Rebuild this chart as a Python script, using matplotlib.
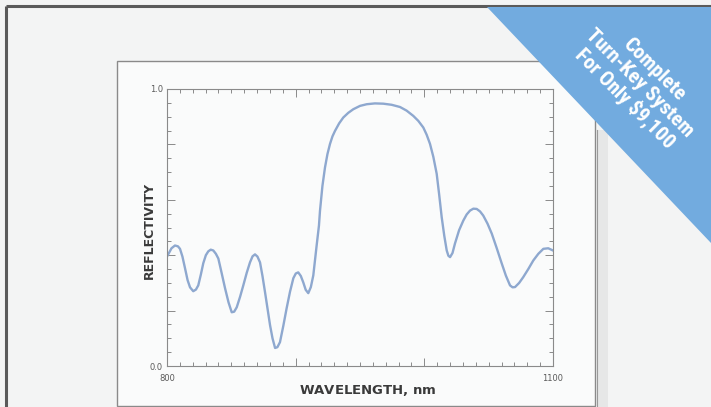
import numpy as np
import matplotlib
matplotlib.use('Agg')
import matplotlib.pyplot as plt
from matplotlib.patches import Rectangle, Polygon
from matplotlib.ticker import MultipleLocator

# Reflectivity spectrum, 800-1100 nm
wavelength = np.array([
    800.0, 803.5, 806.2, 808.5, 810.1, 812.0, 814.0, 816.0, 817.9, 820.4,
    822.5, 824.3, 826.3, 828.2, 830.2, 832.1, 834.0, 836.0, 838.0, 839.9,
    842.5, 845.1, 847.8, 850.3, 852.2, 854.2, 856.8, 859.3, 862.0, 864.5,
    866.5, 868.4, 870.3, 872.3, 874.2, 876.2, 878.2, 880.1, 882.0, 884.0,
    885.8, 887.8, 890.4, 893.0, 895.6, 898.2, 900.1, 902.0, 904.0, 905.9,
    907.8, 909.8, 911.8, 913.7, 915.0, 916.3, 918.1, 918.9, 920.8, 922.8,
    924.7, 926.7, 928.6, 930.6, 933.8, 937.0, 940.9, 944.8, 950.0, 955.2,
    961.6, 968.1, 974.6, 981.1, 986.2, 991.4, 995.3, 999.2, 1001.8, 1004.4,
    1007.0, 1009.6, 1011.5, 1013.5, 1015.5, 1017.4, 1018.7, 1020.0, 1021.9, 1023.8,
    1027.0, 1030.3, 1032.9, 1035.5, 1038.1, 1040.7, 1043.3, 1045.8, 1049.1, 1052.4,
    1056.3, 1060.1, 1063.4, 1066.6, 1068.6, 1070.5, 1073.7, 1076.9, 1080.8, 1084.7,
    1088.6, 1092.5, 1096.3, 1100.0,
])
reflectivity = np.array([
    0.395, 0.425, 0.435, 0.432, 0.423, 0.395, 0.353, 0.310, 0.284, 0.270,
    0.276, 0.291, 0.330, 0.371, 0.400, 0.414, 0.420, 0.417, 0.405, 0.388,
    0.335, 0.281, 0.230, 0.194, 0.196, 0.212, 0.250, 0.291, 0.337, 0.374,
    0.396, 0.403, 0.395, 0.374, 0.325, 0.266, 0.205, 0.147, 0.100, 0.065,
    0.068, 0.086, 0.145, 0.209, 0.268, 0.317, 0.334, 0.338, 0.325, 0.302,
    0.275, 0.263, 0.285, 0.327, 0.381, 0.435, 0.507, 0.560, 0.650, 0.717,
    0.765, 0.802, 0.829, 0.849, 0.876, 0.897, 0.914, 0.927, 0.939, 0.945,
    0.948, 0.947, 0.943, 0.935, 0.922, 0.903, 0.885, 0.861, 0.835, 0.802,
    0.755, 0.694, 0.620, 0.537, 0.470, 0.417, 0.398, 0.393, 0.408, 0.442,
    0.490, 0.525, 0.547, 0.561, 0.568, 0.567, 0.558, 0.543, 0.514, 0.478,
    0.425, 0.371, 0.326, 0.291, 0.284, 0.285, 0.300, 0.321, 0.350, 0.381,
    0.405, 0.423, 0.425, 0.417,
])

x_ticks = [800, 900, 1000, 1100]
x_tick_labels = ['800', '', '', '1100']
y_ticks = [0.0, 0.2, 0.4, 0.6, 0.8, 1.0]
y_tick_labels = ['0.0', '', '', '', '', '1.0']
banner_lines = ['Complete', 'Turn-Key System', 'For Only $9,100']

W, H = 711, 407
fig = plt.figure(figsize=(W / 100, H / 100), dpi=100, facecolor='#f3f4f4')

# page layer in pixel coordinates (origin top-left)
bg = fig.add_axes([0, 0, 1, 1])
bg.set_xlim(0, W)
bg.set_ylim(H, 0)
bg.axis('off')
bg.plot([6, W], [6, 6], color='#5a5a5a', lw=2.2, solid_capstyle='butt')
bg.plot([6, 6], [6, H], color='#5a5a5a', lw=2.2, solid_capstyle='butt')
bg.add_patch(Rectangle((117, 61), 478, 345, facecolor='#fafbfb',
                       edgecolor='#8a8a8a', lw=1.0))
bg.add_patch(Rectangle((597, 130), 11, H - 130, facecolor='#e6e7e7',
                       edgecolor='none'))
bg.plot([597, 597], [130, H], color='#9a9a9a', lw=0.8)

# chart
ax = fig.add_axes([167 / W, (H - 366) / H, (553 - 167) / W, (366 - 89) / H])
ax.set_facecolor('#fafbfb')
ax.plot(wavelength, reflectivity, color='#8ea8cf', lw=1.7)
ax.set_xlim(800, 1100)
ax.set_ylim(0, 1.0)

ax.set_xticks(x_ticks)
ax.set_xticklabels(x_tick_labels)
ax.set_yticks(y_ticks)
ax.set_yticklabels(y_tick_labels)
ax.xaxis.set_minor_locator(MultipleLocator(10))
ax.yaxis.set_minor_locator(MultipleLocator(0.05))
ax.tick_params(which='both', direction='in', top=True, right=True,
               color='#8a8a8a', width=0.7)
ax.tick_params(which='major', length=6, labelsize=6, labelcolor='#5a5a5a', pad=3)
ax.tick_params(axis='x', which='major', pad=6)
ax.tick_params(which='minor', length=3)
for s in ax.spines.values():
    s.set_color('#8a8a8a')
    s.set_linewidth(0.8)

ax.set_ylabel('REFLECTIVITY', fontsize=9, fontweight='bold', color='#3a3a3a')
ax.yaxis.set_label_coords(-0.028, 0.49)
ax.set_xlabel(r'WAVELENGTH, $\mathregular{nm}$', fontsize=9.5, fontweight='bold',
              color='#3a3a3a')
ax.xaxis.set_label_coords(0.52, -0.06)

# corner banner
top = fig.add_axes([0, 0, 1, 1])
top.set_xlim(0, W)
top.set_ylim(H, 0)
top.axis('off')
top.add_patch(Polygon([[487, 7], [W, 7], [W, 243]], closed=True,
                      facecolor='#72abdf', edgecolor='none'))
top.text(639, 84, '\n'.join(banner_lines), rotation=-45, ha='center',
         va='center', ma='center', color='white', fontsize=15,
         fontweight='bold',
         family=['Roboto Condensed', 'Liberation Sans Narrow', 'Roboto'],
         linespacing=1.05, rotation_mode='anchor')

fig.savefig('out.png', dpi=100, facecolor=fig.get_facecolor())
